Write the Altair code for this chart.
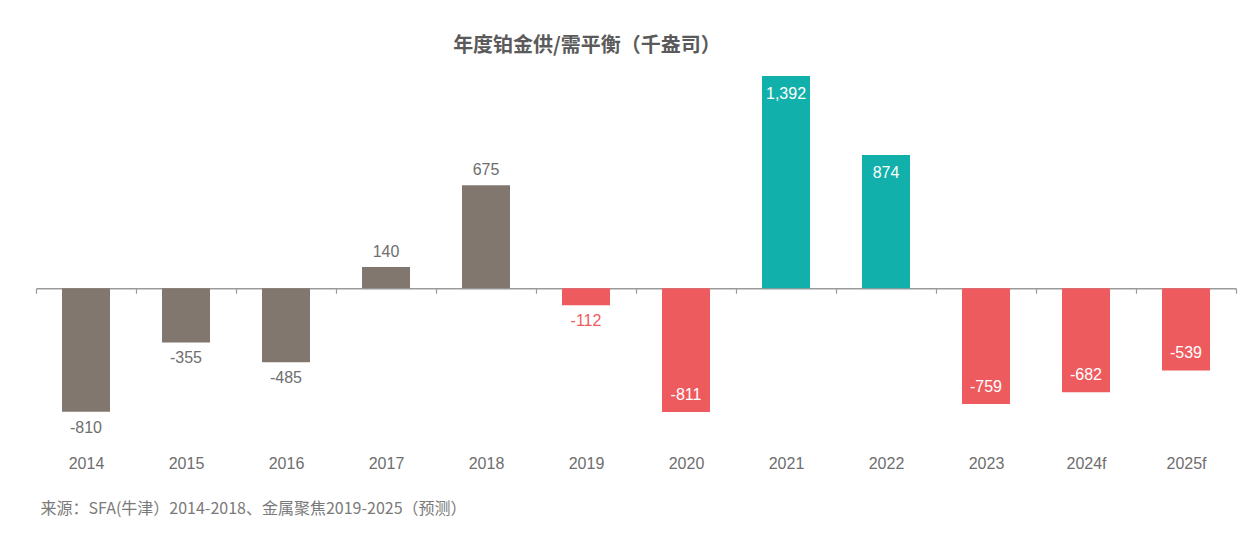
import altair as alt
import pandas as pd

years = ["2014", "2015", "2016", "2017", "2018", "2019", "2020", "2021", "2022", "2023", "2024f", "2025f"]
values = [-810, -355, -485, 140, 675, -112, -811, 1392, 874, -759, -682, -539]
groups = ["SFA", "SFA", "SFA", "SFA", "SFA", "deficit", "deficit", "surplus", "surplus", "deficit", "deficit", "deficit"]

title_text = "年度铂金供/需平衡（千盎司）"
source_text = "来源：SFA(牛津）2014-2018、金属聚焦2019-2025（预测）"

group_colors = {"SFA": "#82776E", "surplus": "#12B0AA", "deficit": "#EE5B5F"}

df = pd.DataFrame({"year": years, "value": values, "group": groups})
df["label"] = df["value"].map(lambda v: f"{v:,}")
df["bcolor"] = df["group"].map(group_colors)
df["inside"] = (df["group"] != "SFA") & (df["value"].abs() > 200)
df["pos"] = df.apply(
    lambda r: ("in" if r["inside"] else "out") + ("_pos" if r["value"] > 0 else "_neg"), axis=1
)
df["lcolor"] = df.apply(
    lambda r: "#FFFFFF" if r["inside"] else ("#EE5B5F" if r["group"] == "deficit" else "#6E6E6E"), axis=1
)

W = 1200
H = 380
ymin, ymax = -1100, 1392
zero_from_bottom = H * (0 - ymin) / (ymax - ymin)

x_axis = alt.Axis(
    title=source_text, labelAngle=0,
    domain=True, domainColor="#9A9A9A", domainWidth=1.5,
    ticks=True, tickColor="#9A9A9A", tickWidth=1.2, tickSize=5, tickBand="extent",
    offset=-zero_from_bottom,
    labelFont="Liberation Sans", labelFontSize=16, labelColor="#6E6E6E",
    labelPadding=zero_from_bottom - 6,
    titleFont="Noto Sans CJK SC", titleFontSize=16, titleFontWeight="normal", titleColor="#7A7A7A",
    titleAnchor="start", titleAlign="left", titleBaseline="middle",
    titleX=4, titleY=zero_from_bottom + 52,
)
x = alt.X("year:N", sort=years, scale=alt.Scale(paddingInner=0, paddingOuter=0), axis=x_axis)
y = alt.Y("value:Q", scale=alt.Scale(domain=[ymin, ymax], nice=False, zero=True), axis=None)

base = alt.Chart(df)

bars = base.mark_bar(size=48).encode(
    x=x, y=y,
    color=alt.Color("bcolor:N", scale=None),
)

offsets = {"out_pos": -15, "out_neg": 16, "in_pos": 18, "in_neg": -17}
label_layers = []
for key, dy in offsets.items():
    label_layers.append(
        base.transform_filter(f"datum.pos == '{key}'").mark_text(
            dy=dy, baseline="middle", font="Liberation Sans", fontSize=16
        ).encode(
            x=alt.X("year:N", sort=years), y=y,
            text="label:N",
            color=alt.Color("lcolor:N", scale=None),
        )
    )

chart = alt.layer(bars, *label_layers).properties(
    width=W, height=H,
    title=alt.TitleParams(title_text, font="Noto Sans CJK SC", fontSize=20, fontWeight="bold",
                          color="#5A5A5A", anchor="middle", dx=-49, offset=20),
    autosize=alt.AutoSizeParams(type="none"),
    padding={"left": 28, "top": 68, "right": 8, "bottom": 72},
).configure_view(stroke=None)

chart.save("out.html", embed_options={"renderer": "svg", "actions": False})
